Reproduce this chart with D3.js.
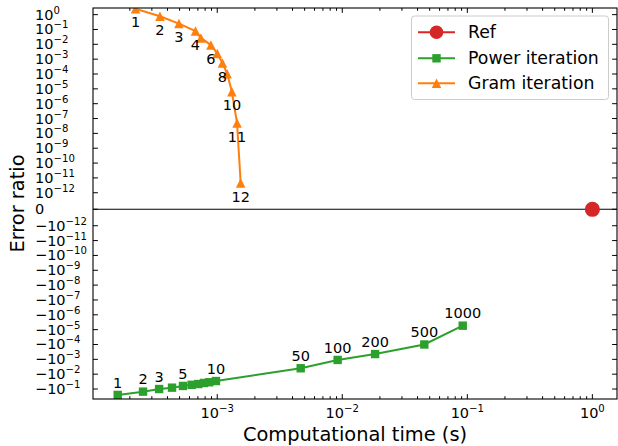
<!DOCTYPE html>
<html><head><meta charset="utf-8">
<script src="https://cdn.jsdelivr.net/npm/d3@7"></script>
<style>body{margin:0;background:#fff;} svg{display:block;font-family:"DejaVu Sans",sans-serif;}</style>
</head><body><svg id="chart" width="618" height="446"></svg>
<script>
// ---- data ----
const gramIter   = [1,2,3,4,5,6,7,8,9,10,11,12];
const gramTime   = [2.22e-4,3.48e-4,4.94e-4,6.7e-4,7.4e-4,8.9e-4,1.0e-3,1.1e-3,1.2e-3,1.31e-3,1.44e-3,1.54e-3];
const gramError  = [2.5,0.78,0.25,0.078,0.027,8.9e-3,2.4e-3,5.6e-4,1.05e-4,6.4e-6,5e-8,4.6e-12];
const gramLabels = ["1","2","3","4","","6","","8","","10","11","12"];

const powerIter   = [1,2,3,4,5,6,7,8,9,10,50,100,200,500,1000];
const powerTime   = [1.60e-4,2.55e-4,3.43e-4,4.35e-4,5.32e-4,6.24e-4,7.05e-4,7.83e-4,8.63e-4,9.77e-4,4.65e-3,9.18e-3,1.83e-2,4.53e-2,9.19e-2];
const powerError  = [-0.25,-0.15,-0.10,-0.081,-0.062,-0.052,-0.046,-0.039,-0.035,-0.029,-4.0e-3,-1.1e-3,-4.4e-4,-1.0e-4,-5.4e-6];
const powerLabels = ["1","2","3","","5","","","","","10","50","100","200","500","1000"];

const refTime  = [1.0];
const refError = [0];

const xTickExps   = [-3,-2,-1,0];
const yPosExps    = [0,-1,-2,-3,-4,-5,-6,-7,-8,-9,-10,-11,-12];
const yNegExps    = [-12,-11,-10,-9,-8,-7,-6,-5,-4,-3,-2,-1];

const seriesNames  = ["Ref","Power iteration","Gram iteration"];
const seriesColors = ["#d62728","#2ca02c","#ff7f0e"];

// ---- layout ----
const L = 93, R = 617, T = 8, B = 399;
const svg = d3.select("#chart");

const x = d3.scaleLog().domain([1.015e-4, 1.574]).range([L, R]);

// matplotlib-like symlog (linthresh 1e-12, linscale 1)
const linthresh = 1e-12, linscaleAdj = 1/(1-1/10);
function symlogT(v){
  const a = Math.abs(v);
  if (a <= linthresh) return v/linthresh*linscaleAdj;
  return Math.sign(v)*(linscaleAdj + Math.log10(a/linthresh));
}
const yLin = d3.scaleLinear().domain([symlogT(-0.47), symlogT(2.8)]).range([B, T]);
const y = v => yLin(symlogT(v));

// clip
svg.append("defs").append("clipPath").attr("id","clip")
  .append("rect").attr("x",L).attr("y",T).attr("width",R-L).attr("height",B-T);

const plot = svg.append("g").attr("clip-path","url(#clip)");

// zero line
plot.append("line").attr("x1",L).attr("x2",R).attr("y1",y(0)).attr("y2",y(0))
  .attr("stroke","#000").attr("stroke-width",1);

const line = d3.line().x(d=>x(d[0])).y(d=>y(d[1]));

function triPath(cx,cy,s){const h=s/2;return `M${cx},${cy-h}L${cx+h},${cy+h}L${cx-h},${cy+h}Z`;}

// power iteration
const powerData = powerTime.map((t,i)=>[t,powerError[i]]);
plot.append("path").attr("d",line(powerData)).attr("fill","none")
  .attr("stroke",seriesColors[1]).attr("stroke-width",2);
plot.selectAll(".sq").data(powerData).enter().append("rect")
  .attr("x",d=>x(d[0])-4.2).attr("y",d=>y(d[1])-4.2).attr("width",8.4).attr("height",8.4)
  .attr("fill",seriesColors[1]);

// gram iteration
const gramData = gramTime.map((t,i)=>[t,gramError[i]]);
plot.append("path").attr("d",line(gramData)).attr("fill","none")
  .attr("stroke",seriesColors[2]).attr("stroke-width",2);
plot.selectAll(".tri").data(gramData).enter().append("path")
  .attr("d",d=>triPath(x(d[0]),y(d[1]),9.5)).attr("fill",seriesColors[2]);

// ref
plot.selectAll(".ref").data(refTime.map((t,i)=>[t,refError[i]])).enter().append("circle")
  .attr("cx",d=>x(d[0])).attr("cy",d=>y(d[1])).attr("r",7.6).attr("fill",seriesColors[0]);

// annotations
const ann = svg.append("g").attr("font-size",14.5).attr("fill","#000").attr("text-anchor","middle");
gramData.forEach((d,i)=>{ if(gramLabels[i]) ann.append("text").attr("x",x(d[0])).attr("y",y(d[1])+13.5).attr("dy","0.36em").text(gramLabels[i]); });
powerData.forEach((d,i)=>{ if(powerLabels[i]) ann.append("text").attr("x",x(d[0])).attr("y",y(d[1])-12.5).attr("dy","0.36em").text(powerLabels[i]); });

// frame
svg.append("rect").attr("x",L).attr("y",T).attr("width",R-L).attr("height",B-T)
  .attr("fill","none").attr("stroke","#000").attr("stroke-width",1.1);

// x ticks (major + minor), inward, top & bottom
const ticks = svg.append("g").attr("stroke","#000").attr("stroke-width",1);
const xMajor = xTickExps.concat([-4]).map(e=>Math.pow(10,e));
const xMinor = [];
[-4,-3,-2,-1,0].forEach(e=>{for(let k=2;k<=9;k++){xMinor.push(k*Math.pow(10,e));}});
xMajor.filter(v=>x(v)>=L&&x(v)<=R).forEach(v=>{
  ticks.append("line").attr("x1",x(v)).attr("x2",x(v)).attr("y1",B).attr("y2",B-4.9);
  ticks.append("line").attr("x1",x(v)).attr("x2",x(v)).attr("y1",T).attr("y2",T+4.9);
});
xMinor.filter(v=>x(v)>=L&&x(v)<=R).forEach(v=>{
  ticks.append("line").attr("x1",x(v)).attr("x2",x(v)).attr("y1",B).attr("y2",B-2.8);
  ticks.append("line").attr("x1",x(v)).attr("x2",x(v)).attr("y1",T).attr("y2",T+2.8);
});
// y ticks
const yTickVals = yPosExps.map(e=>Math.pow(10,e)).concat([0]).concat(yNegExps.map(e=>-Math.pow(10,e)));
yTickVals.forEach(v=>{
  ticks.append("line").attr("x1",L).attr("x2",L+4.9).attr("y1",y(v)).attr("y2",y(v));
  ticks.append("line").attr("x1",R).attr("x2",R-4.9).attr("y1",y(v)).attr("y2",y(v));
});

// tick labels
const fs = 14.5;
function supLabel(g, xx, yy, base, exp, anchor){
  const t = g.append("text").attr("x",xx).attr("y",yy).attr("text-anchor",anchor).attr("font-size",fs);
  t.append("tspan").text(base);
  if (exp!==null) t.append("tspan").attr("font-size",fs*0.7).attr("dy",-6).text(exp);
  return t;
}
const tl = svg.append("g").attr("fill","#000");
xTickExps.forEach(e=>{
  supLabel(tl, x(Math.pow(10,e)), 417.5, "10", (e<0?"\u2212"+(-e):String(e)), "middle");
});
yPosExps.forEach(e=>{
  supLabel(tl, 35, y(Math.pow(10,e))+5, "10", (e<0?"\u2212"+(-e):String(e)), "start");
});
supLabel(tl, 35, y(0)+5, "0", null, "start");
yNegExps.forEach(e=>{
  supLabel(tl, 35, y(-Math.pow(10,e))+5, "\u221210", "\u2212"+(-e), "start");
});

// axis labels
svg.append("text").attr("x",(L+R)/2).attr("y",441).attr("text-anchor","middle")
  .attr("font-size",19.4).text("Computational time (s)");
svg.append("text").attr("transform",`translate(24,${(T+B)/2}) rotate(-90)`).attr("text-anchor","middle")
  .attr("font-size",19.4).text("Error ratio");

// legend
const lg = svg.append("g");
lg.append("rect").attr("x",411.5).attr("y",16).attr("width",197).attr("height",83.5).attr("rx",3)
  .attr("fill","#fff").attr("fill-opacity",0.8).attr("stroke","#cccccc").attr("stroke-width",1);
const rowsY = [32.3,58.3,83.3];
seriesNames.forEach((n,i)=>{
  const cy = rowsY[i], c = seriesColors[i];
  lg.append("line").attr("x1",418).attr("x2",455).attr("y1",cy).attr("y2",cy).attr("stroke",c).attr("stroke-width",2);
  if(i===0) lg.append("circle").attr("cx",436.5).attr("cy",cy).attr("r",6.8).attr("fill",c);
  if(i===1) lg.append("rect").attr("x",436.5-4.2).attr("y",cy-4.2).attr("width",8.4).attr("height",8.4).attr("fill",c);
  if(i===2) lg.append("path").attr("d",triPath(436.5,cy,9.5)).attr("fill",c);
  lg.append("text").attr("x",468).attr("y",cy).attr("dy","0.35em").attr("font-size",17.3).text(n);
});
</script></body></html>
